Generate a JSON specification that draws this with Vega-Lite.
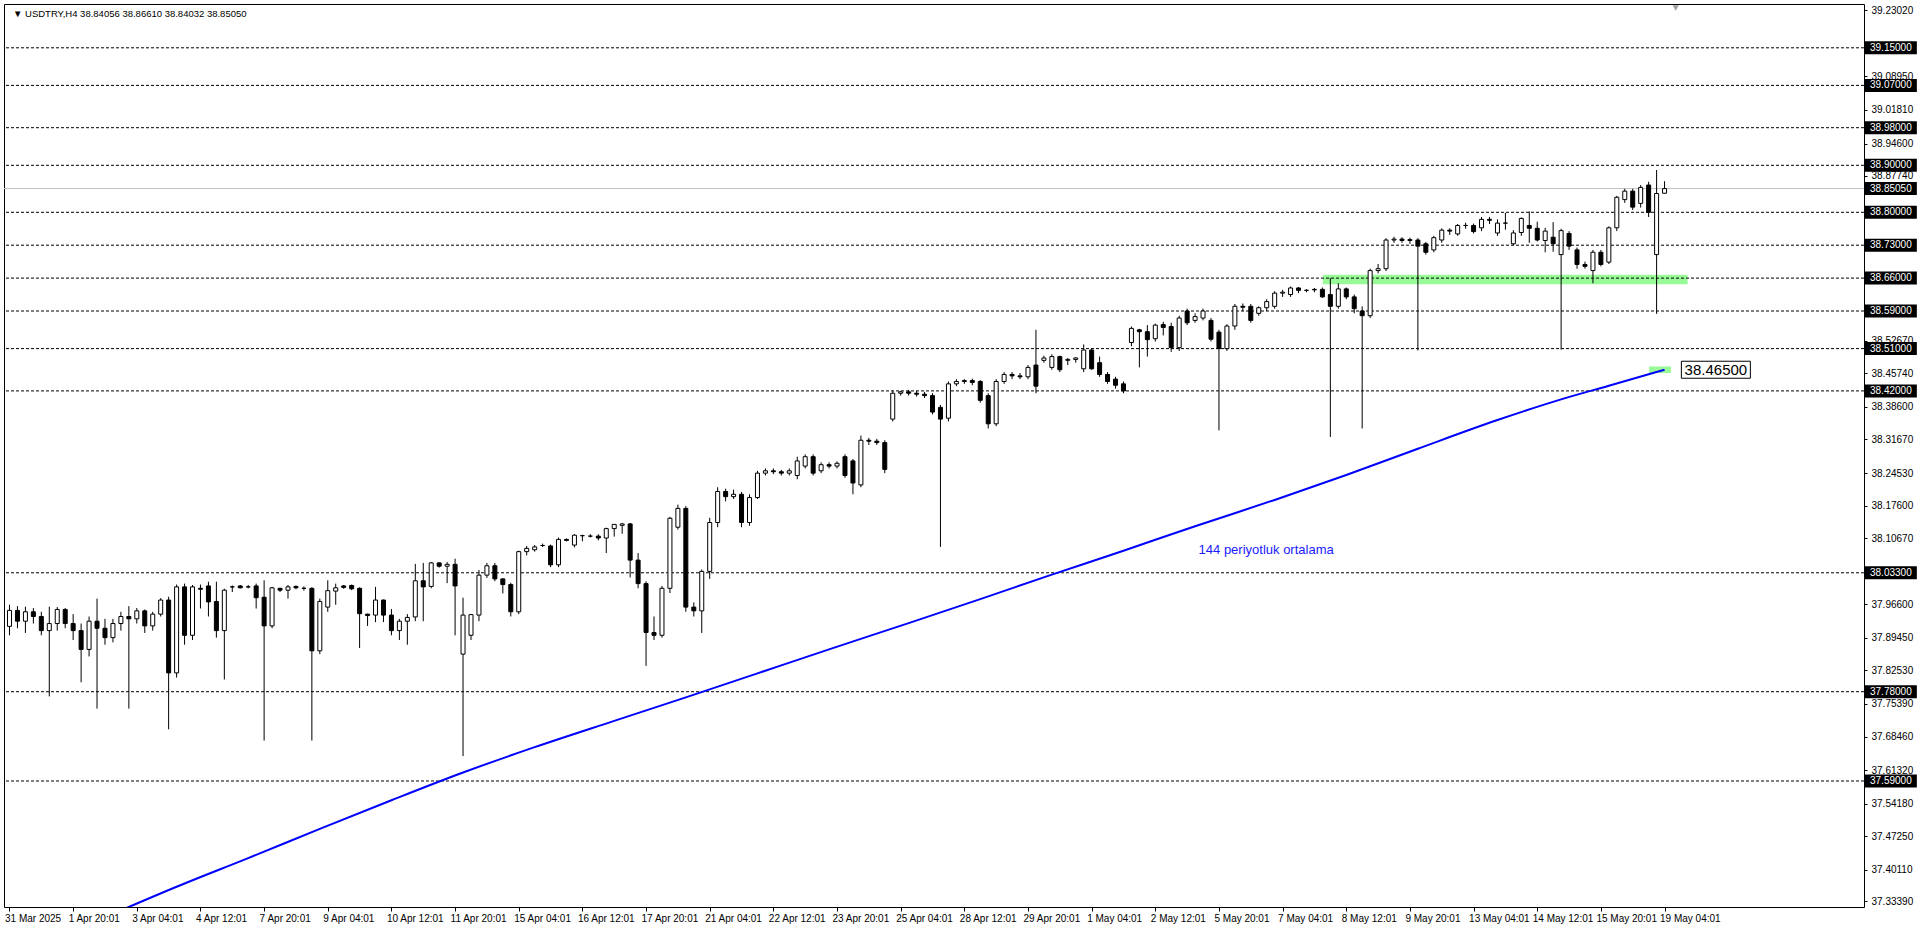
{
  "$schema": "https://vega.github.io/schema/vega-lite/v6.json",
  "width": 1860,
  "height": 903,
  "autosize": {"type": "none"},
  "padding": {"left": 4, "top": 4, "right": 56, "bottom": 20},
  "background": "white",
  "config": {"view": {"stroke": "black", "strokeWidth": 1}, "font": "Liberation Sans"},
  "datasets": {
    "candles": [
      {"i":0,"o":37.919,"h":37.965,"l":37.90,"c":37.953},
      {"i":1,"o":37.953,"h":37.962,"l":37.915,"c":37.93},
      {"i":2,"o":37.93,"h":37.961,"l":37.905,"c":37.95},
      {"i":3,"o":37.95,"h":37.958,"l":37.925,"c":37.94},
      {"i":4,"o":37.94,"h":37.95,"l":37.90,"c":37.91},
      {"i":5,"o":37.91,"h":37.961,"l":37.77,"c":37.925},
      {"i":6,"o":37.925,"h":37.96,"l":37.91,"c":37.955},
      {"i":7,"o":37.955,"h":37.958,"l":37.915,"c":37.925},
      {"i":8,"o":37.925,"h":37.945,"l":37.89,"c":37.91},
      {"i":9,"o":37.91,"h":37.925,"l":37.80,"c":37.87},
      {"i":10,"o":37.87,"h":37.94,"l":37.855,"c":37.93},
      {"i":11,"o":37.93,"h":37.978,"l":37.744,"c":37.915},
      {"i":12,"o":37.915,"h":37.935,"l":37.88,"c":37.895},
      {"i":13,"o":37.895,"h":37.935,"l":37.885,"c":37.925},
      {"i":14,"o":37.925,"h":37.95,"l":37.91,"c":37.94},
      {"i":15,"o":37.94,"h":37.962,"l":37.744,"c":37.935},
      {"i":16,"o":37.935,"h":37.958,"l":37.925,"c":37.952},
      {"i":17,"o":37.952,"h":37.955,"l":37.905,"c":37.92},
      {"i":18,"o":37.92,"h":37.95,"l":37.91,"c":37.945},
      {"i":19,"o":37.945,"h":37.979,"l":37.94,"c":37.975},
      {"i":20,"o":37.975,"h":37.982,"l":37.70,"c":37.82},
      {"i":21,"o":37.82,"h":38.008,"l":37.81,"c":38.003},
      {"i":22,"o":38.003,"h":38.01,"l":37.88,"c":37.90},
      {"i":23,"o":37.90,"h":38.007,"l":37.89,"c":38.003},
      {"i":24,"o":38.0,"h":38.008,"l":37.957,"c":37.998},
      {"i":25,"o":38.005,"h":38.014,"l":37.94,"c":37.971},
      {"i":26,"o":37.972,"h":38.014,"l":37.895,"c":37.91},
      {"i":27,"o":37.91,"h":37.999,"l":37.806,"c":37.996},
      {"i":28,"o":38.003,"h":38.006,"l":37.992,"c":38.003},
      {"i":29,"o":38.005,"h":38.007,"l":38.0,"c":38.001},
      {"i":30,"o":38.003,"h":38.007,"l":38.0,"c":38.003},
      {"i":31,"o":38.005,"h":38.01,"l":37.957,"c":37.98},
      {"i":32,"o":37.981,"h":38.017,"l":37.676,"c":37.92},
      {"i":33,"o":37.92,"h":38.003,"l":37.915,"c":38.001},
      {"i":34,"o":38.0,"h":38.001,"l":37.992,"c":37.996},
      {"i":35,"o":37.996,"h":38.007,"l":37.978,"c":38.003},
      {"i":36,"o":38.004,"h":38.006,"l":37.998,"c":38.001},
      {"i":37,"o":38.0,"h":38.004,"l":37.995,"c":38.0},
      {"i":38,"o":38.0,"h":38.002,"l":37.676,"c":37.867},
      {"i":39,"o":37.867,"h":37.978,"l":37.86,"c":37.972},
      {"i":40,"o":37.96,"h":38.017,"l":37.95,"c":37.995},
      {"i":41,"o":37.994,"h":38.01,"l":37.965,"c":38.001},
      {"i":42,"o":38.005,"h":38.007,"l":37.999,"c":38.002},
      {"i":43,"o":38.006,"h":38.008,"l":37.996,"c":37.999},
      {"i":44,"o":38.0,"h":38.002,"l":37.873,"c":37.946},
      {"i":45,"o":37.945,"h":37.946,"l":37.92,"c":37.942},
      {"i":46,"o":37.943,"h":38.003,"l":37.928,"c":37.975},
      {"i":47,"o":37.975,"h":37.976,"l":37.928,"c":37.943},
      {"i":48,"o":37.943,"h":37.956,"l":37.90,"c":37.91},
      {"i":49,"o":37.91,"h":37.935,"l":37.89,"c":37.93},
      {"i":50,"o":37.93,"h":37.945,"l":37.88,"c":37.938},
      {"i":51,"o":37.939,"h":38.052,"l":37.93,"c":38.016},
      {"i":52,"o":38.016,"h":38.054,"l":37.93,"c":38.003},
      {"i":53,"o":38.004,"h":38.056,"l":38.0,"c":38.054},
      {"i":54,"o":38.054,"h":38.055,"l":38.044,"c":38.047},
      {"i":55,"o":38.047,"h":38.056,"l":38.011,"c":38.051},
      {"i":56,"o":38.051,"h":38.063,"l":37.90,"c":38.005},
      {"i":57,"o":37.86,"h":37.98,"l":37.643,"c":37.943},
      {"i":58,"o":37.90,"h":37.945,"l":37.89,"c":37.944},
      {"i":59,"o":37.943,"h":38.039,"l":37.93,"c":38.028},
      {"i":60,"o":38.028,"h":38.054,"l":38.022,"c":38.048},
      {"i":61,"o":38.048,"h":38.054,"l":38.015,"c":38.02},
      {"i":62,"o":38.02,"h":38.021,"l":37.989,"c":38.008},
      {"i":63,"o":38.008,"h":38.012,"l":37.94,"c":37.95},
      {"i":64,"o":37.95,"h":38.08,"l":37.945,"c":38.078},
      {"i":65,"o":38.078,"h":38.09,"l":38.07,"c":38.085},
      {"i":66,"o":38.082,"h":38.092,"l":38.078,"c":38.088},
      {"i":67,"o":38.091,"h":38.095,"l":38.088,"c":38.091},
      {"i":68,"o":38.09,"h":38.093,"l":38.045,"c":38.05},
      {"i":69,"o":38.05,"h":38.108,"l":38.045,"c":38.104},
      {"i":70,"o":38.104,"h":38.106,"l":38.1,"c":38.102},
      {"i":71,"o":38.092,"h":38.115,"l":38.087,"c":38.113},
      {"i":72,"o":38.112,"h":38.114,"l":38.10,"c":38.112},
      {"i":73,"o":38.111,"h":38.115,"l":38.108,"c":38.111},
      {"i":74,"o":38.111,"h":38.115,"l":38.102,"c":38.107},
      {"i":75,"o":38.107,"h":38.129,"l":38.075,"c":38.127},
      {"i":76,"o":38.127,"h":38.136,"l":38.11,"c":38.136},
      {"i":77,"o":38.134,"h":38.139,"l":38.116,"c":38.137},
      {"i":78,"o":38.137,"h":38.139,"l":38.023,"c":38.06},
      {"i":79,"o":38.06,"h":38.075,"l":38.0,"c":38.01},
      {"i":80,"o":38.01,"h":38.015,"l":37.835,"c":37.906},
      {"i":81,"o":37.906,"h":37.94,"l":37.89,"c":37.90},
      {"i":82,"o":37.90,"h":38.005,"l":37.895,"c":38.0},
      {"i":83,"o":38.0,"h":38.152,"l":37.99,"c":38.149},
      {"i":84,"o":38.13,"h":38.178,"l":38.125,"c":38.17},
      {"i":85,"o":38.17,"h":38.175,"l":37.95,"c":37.96},
      {"i":86,"o":37.96,"h":37.97,"l":37.94,"c":37.952},
      {"i":87,"o":37.952,"h":38.04,"l":37.905,"c":38.036},
      {"i":88,"o":38.036,"h":38.15,"l":38.02,"c":38.14},
      {"i":89,"o":38.14,"h":38.215,"l":38.13,"c":38.206},
      {"i":90,"o":38.206,"h":38.212,"l":38.185,"c":38.195},
      {"i":91,"o":38.195,"h":38.21,"l":38.19,"c":38.2},
      {"i":92,"o":38.2,"h":38.205,"l":38.13,"c":38.14},
      {"i":93,"o":38.14,"h":38.2,"l":38.133,"c":38.193},
      {"i":94,"o":38.193,"h":38.25,"l":38.19,"c":38.245},
      {"i":95,"o":38.245,"h":38.255,"l":38.24,"c":38.25},
      {"i":96,"o":38.25,"h":38.255,"l":38.243,"c":38.248},
      {"i":97,"o":38.248,"h":38.252,"l":38.24,"c":38.245},
      {"i":98,"o":38.245,"h":38.255,"l":38.24,"c":38.25},
      {"i":99,"o":38.24,"h":38.28,"l":38.232,"c":38.271},
      {"i":100,"o":38.26,"h":38.285,"l":38.255,"c":38.28},
      {"i":101,"o":38.28,"h":38.285,"l":38.24,"c":38.245},
      {"i":102,"o":38.25,"h":38.268,"l":38.245,"c":38.263},
      {"i":103,"o":38.263,"h":38.268,"l":38.255,"c":38.26},
      {"i":104,"o":38.26,"h":38.27,"l":38.255,"c":38.266},
      {"i":105,"o":38.28,"h":38.285,"l":38.235,"c":38.24},
      {"i":106,"o":38.271,"h":38.275,"l":38.2,"c":38.224},
      {"i":107,"o":38.22,"h":38.325,"l":38.215,"c":38.315},
      {"i":108,"o":38.315,"h":38.32,"l":38.305,"c":38.313},
      {"i":109,"o":38.313,"h":38.318,"l":38.305,"c":38.31},
      {"i":110,"o":38.31,"h":38.315,"l":38.245,"c":38.253},
      {"i":111,"o":38.36,"h":38.42,"l":38.355,"c":38.415},
      {"i":112,"o":38.415,"h":38.42,"l":38.41,"c":38.418},
      {"i":113,"o":38.418,"h":38.422,"l":38.41,"c":38.415},
      {"i":114,"o":38.415,"h":38.42,"l":38.408,"c":38.413},
      {"i":115,"o":38.413,"h":38.418,"l":38.405,"c":38.41},
      {"i":116,"o":38.41,"h":38.415,"l":38.37,"c":38.375},
      {"i":117,"o":38.385,"h":38.39,"l":38.088,"c":38.36},
      {"i":118,"o":38.362,"h":38.44,"l":38.355,"c":38.435},
      {"i":119,"o":38.435,"h":38.445,"l":38.43,"c":38.44},
      {"i":120,"o":38.44,"h":38.445,"l":38.435,"c":38.442},
      {"i":121,"o":38.442,"h":38.446,"l":38.432,"c":38.438},
      {"i":122,"o":38.44,"h":38.443,"l":38.395,"c":38.40},
      {"i":123,"o":38.41,"h":38.415,"l":38.34,"c":38.35},
      {"i":124,"o":38.35,"h":38.445,"l":38.345,"c":38.44},
      {"i":125,"o":38.44,"h":38.46,"l":38.435,"c":38.455},
      {"i":126,"o":38.455,"h":38.46,"l":38.445,"c":38.452},
      {"i":127,"o":38.452,"h":38.458,"l":38.445,"c":38.45},
      {"i":128,"o":38.45,"h":38.475,"l":38.445,"c":38.47},
      {"i":129,"o":38.475,"h":38.55,"l":38.415,"c":38.43},
      {"i":130,"o":38.485,"h":38.495,"l":38.48,"c":38.49},
      {"i":131,"o":38.47,"h":38.498,"l":38.465,"c":38.493},
      {"i":132,"o":38.493,"h":38.495,"l":38.46,"c":38.465},
      {"i":133,"o":38.485,"h":38.49,"l":38.475,"c":38.487},
      {"i":134,"o":38.487,"h":38.492,"l":38.48,"c":38.49},
      {"i":135,"o":38.467,"h":38.519,"l":38.46,"c":38.507},
      {"i":136,"o":38.507,"h":38.51,"l":38.465,"c":38.467},
      {"i":137,"o":38.48,"h":38.493,"l":38.45,"c":38.455},
      {"i":138,"o":38.455,"h":38.46,"l":38.435,"c":38.44},
      {"i":139,"o":38.445,"h":38.45,"l":38.425,"c":38.432},
      {"i":140,"o":38.435,"h":38.44,"l":38.415,"c":38.42},
      {"i":141,"o":38.523,"h":38.557,"l":38.515,"c":38.553},
      {"i":142,"o":38.55,"h":38.552,"l":38.47,"c":38.546},
      {"i":143,"o":38.546,"h":38.56,"l":38.493,"c":38.529},
      {"i":144,"o":38.531,"h":38.563,"l":38.525,"c":38.56},
      {"i":145,"o":38.561,"h":38.567,"l":38.538,"c":38.555},
      {"i":146,"o":38.557,"h":38.565,"l":38.503,"c":38.512},
      {"i":147,"o":38.512,"h":38.58,"l":38.505,"c":38.575},
      {"i":148,"o":38.59,"h":38.595,"l":38.56,"c":38.565},
      {"i":149,"o":38.57,"h":38.585,"l":38.565,"c":38.578},
      {"i":150,"o":38.575,"h":38.595,"l":38.57,"c":38.59},
      {"i":151,"o":38.57,"h":38.575,"l":38.525,"c":38.53},
      {"i":152,"o":38.545,"h":38.55,"l":38.336,"c":38.51},
      {"i":153,"o":38.51,"h":38.562,"l":38.505,"c":38.558},
      {"i":154,"o":38.558,"h":38.605,"l":38.55,"c":38.60},
      {"i":155,"o":38.60,"h":38.606,"l":38.59,"c":38.598},
      {"i":156,"o":38.60,"h":38.605,"l":38.565,"c":38.57},
      {"i":157,"o":38.585,"h":38.6,"l":38.58,"c":38.597},
      {"i":158,"o":38.597,"h":38.615,"l":38.59,"c":38.61},
      {"i":159,"o":38.60,"h":38.632,"l":38.595,"c":38.628},
      {"i":160,"o":38.628,"h":38.635,"l":38.62,"c":38.63},
      {"i":161,"o":38.625,"h":38.642,"l":38.62,"c":38.639},
      {"i":162,"o":38.639,"h":38.641,"l":38.628,"c":38.634},
      {"i":163,"o":38.634,"h":38.636,"l":38.63,"c":38.634},
      {"i":164,"o":38.635,"h":38.639,"l":38.63,"c":38.636},
      {"i":165,"o":38.636,"h":38.64,"l":38.618,"c":38.62},
      {"i":166,"o":38.625,"h":38.66,"l":38.322,"c":38.60},
      {"i":167,"o":38.60,"h":38.649,"l":38.595,"c":38.637},
      {"i":168,"o":38.637,"h":38.64,"l":38.615,"c":38.62},
      {"i":169,"o":38.62,"h":38.625,"l":38.585,"c":38.595},
      {"i":170,"o":38.59,"h":38.60,"l":38.34,"c":38.58},
      {"i":171,"o":38.58,"h":38.68,"l":38.575,"c":38.676},
      {"i":172,"o":38.676,"h":38.69,"l":38.67,"c":38.68},
      {"i":173,"o":38.68,"h":38.745,"l":38.675,"c":38.741},
      {"i":174,"o":38.741,"h":38.748,"l":38.735,"c":38.743},
      {"i":175,"o":38.743,"h":38.747,"l":38.735,"c":38.74},
      {"i":176,"o":38.74,"h":38.746,"l":38.733,"c":38.742},
      {"i":177,"o":38.741,"h":38.745,"l":38.506,"c":38.728},
      {"i":178,"o":38.733,"h":38.737,"l":38.71,"c":38.715},
      {"i":179,"o":38.72,"h":38.75,"l":38.715,"c":38.746},
      {"i":180,"o":38.741,"h":38.766,"l":38.735,"c":38.762},
      {"i":181,"o":38.762,"h":38.766,"l":38.752,"c":38.76},
      {"i":182,"o":38.754,"h":38.775,"l":38.75,"c":38.772},
      {"i":183,"o":38.772,"h":38.778,"l":38.765,"c":38.772},
      {"i":184,"o":38.772,"h":38.776,"l":38.755,"c":38.759},
      {"i":185,"o":38.767,"h":38.79,"l":38.76,"c":38.785},
      {"i":186,"o":38.785,"h":38.79,"l":38.775,"c":38.783},
      {"i":187,"o":38.756,"h":38.785,"l":38.75,"c":38.777},
      {"i":188,"o":38.777,"h":38.799,"l":38.763,"c":38.777},
      {"i":189,"o":38.733,"h":38.762,"l":38.73,"c":38.756},
      {"i":190,"o":38.757,"h":38.789,"l":38.75,"c":38.787},
      {"i":191,"o":38.772,"h":38.802,"l":38.735,"c":38.766},
      {"i":192,"o":38.766,"h":38.78,"l":38.738,"c":38.741},
      {"i":193,"o":38.74,"h":38.767,"l":38.715,"c":38.76},
      {"i":194,"o":38.747,"h":38.779,"l":38.716,"c":38.733},
      {"i":195,"o":38.71,"h":38.765,"l":38.508,"c":38.761},
      {"i":196,"o":38.755,"h":38.76,"l":38.72,"c":38.728},
      {"i":197,"o":38.72,"h":38.725,"l":38.68,"c":38.689},
      {"i":198,"o":38.689,"h":38.695,"l":38.68,"c":38.685},
      {"i":199,"o":38.676,"h":38.72,"l":38.649,"c":38.715},
      {"i":200,"o":38.715,"h":38.72,"l":38.685,"c":38.689},
      {"i":201,"o":38.694,"h":38.77,"l":38.69,"c":38.767},
      {"i":202,"o":38.767,"h":38.835,"l":38.76,"c":38.832},
      {"i":203,"o":38.827,"h":38.85,"l":38.82,"c":38.845},
      {"i":204,"o":38.845,"h":38.85,"l":38.805,"c":38.811},
      {"i":205,"o":38.819,"h":38.858,"l":38.81,"c":38.853},
      {"i":206,"o":38.858,"h":38.865,"l":38.79,"c":38.80},
      {"i":207,"o":38.71,"h":38.89,"l":38.584,"c":38.84},
      {"i":208,"o":38.84056,"h":38.8661,"l":38.84032,"c":38.8505}
    ],
    "ma": [
      {"i":12,"ma":37.30},{"i":21,"ma":37.365},{"i":30,"ma":37.426},{"i":39,"ma":37.488},
      {"i":48,"ma":37.549},{"i":57,"ma":37.608},{"i":66,"ma":37.662},{"i":76,"ma":37.718},
      {"i":85,"ma":37.768},{"i":94,"ma":37.819},{"i":103,"ma":37.870},{"i":113,"ma":37.926},
      {"i":122,"ma":37.977},{"i":131,"ma":38.029},{"i":140,"ma":38.080},{"i":149,"ma":38.132},
      {"i":159,"ma":38.188},{"i":168,"ma":38.241},{"i":177,"ma":38.297},{"i":187,"ma":38.358},
      {"i":195,"ma":38.402},{"i":201,"ma":38.431},{"i":208,"ma":38.465}
    ],
    "levels": [
      {"p":39.15,"kind":"level"},{"p":39.07,"kind":"level"},{"p":38.98,"kind":"level"},
      {"p":38.90,"kind":"level"},{"p":38.8505,"kind":"bid"},{"p":38.80,"kind":"level"},
      {"p":38.73,"kind":"level"},{"p":38.66,"kind":"level"},{"p":38.59,"kind":"level"},
      {"p":38.51,"kind":"level"},{"p":38.42,"kind":"level"},{"p":38.033,"kind":"level"},
      {"p":37.78,"kind":"level"},{"p":37.59,"kind":"level"}
    ],
    "zones": [
      {"x1":165.06,"x2":210.9,"p1":38.647,"p2":38.667},
      {"x1":206.06,"x2":208.8,"p1":38.458,"p2":38.472}
    ],
    "maLabel": [{"i":214.45,"p":38.465}]
  },
  "layer": [
    {
      "data": {"name": "zones"},
      "mark": {"type": "rect", "fill": "#98fb98"},
      "encoding": {
        "x": {"field": "x1", "type": "quantitative", "scale": {"domain": [-0.0625, 232.4375], "nice": false, "zero": false},
          "axis": {"values": [0,8,16,24,32,40,48,56,64,72,80,88,96,104,112,120,128,136,144,152,160,168,176,184,192,200,208],
            "labelExpr": "['31 Mar 2025','1 Apr 20:01','3 Apr 04:01','4 Apr 12:01','7 Apr 20:01','9 Apr 04:01','10 Apr 12:01','11 Apr 20:01','15 Apr 04:01','16 Apr 12:01','17 Apr 20:01','21 Apr 04:01','22 Apr 12:01','23 Apr 20:01','25 Apr 04:01','28 Apr 12:01','29 Apr 20:01','1 May 04:01','2 May 12:01','5 May 20:01','7 May 04:01','8 May 12:01','9 May 20:01','13 May 04:01','14 May 12:01','15 May 20:01','19 May 04:01'][round(datum.value/8)]",
            "labelAlign": "left", "labelBaseline": "top", "labelPadding": 2, "labelOffset": -5, "tickSize": 4, "tickColor": "black",
            "domain": false, "grid": false, "title": null, "labelFont": "Liberation Sans", "labelFontSize": 10,
            "labelColor": "black", "labelOverlap": false, "labelFlush": false, "labelBound": false}},
        "x2": {"field": "x2"},
        "y": {"field": "p1", "type": "quantitative", "scale": {"domain": [37.3219, 39.2432], "nice": false, "zero": false},
          "axis": {"orient": "right",
            "values": [39.2302,39.0895,39.0181,38.946,38.8774,38.5267,38.4574,38.386,38.3167,38.2453,38.176,38.1067,37.966,37.8945,37.8253,37.7539,37.6846,37.6132,37.5418,37.4725,37.4011,37.3339],
            "format": ".5f", "tickSize": 3, "tickColor": "black", "labelPadding": 4, "domain": false, "grid": false,
            "title": null, "labelFont": "Liberation Sans", "labelFontSize": 10, "labelColor": "black",
            "labelOverlap": false, "labelFlush": false, "labelBound": false}},
        "y2": {"field": "p2"}
      }
    },
    {
      "data": {"name": "levels"},
      "transform": [{"filter": "datum.kind == 'level'"}],
      "mark": {"type": "rule", "color": "black", "strokeWidth": 1, "strokeDash": [3, 2]},
      "encoding": {"y": {"field": "p", "type": "quantitative"}}
    },
    {
      "data": {"name": "levels"},
      "transform": [{"filter": "datum.kind == 'bid'"}],
      "mark": {"type": "rule", "color": "#c0c0c0", "strokeWidth": 1},
      "encoding": {"y": {"field": "p", "type": "quantitative"}}
    },
    {
      "data": {"name": "candles"},
      "mark": {"type": "rule", "color": "black", "strokeWidth": 1},
      "encoding": {
        "x": {"field": "i", "type": "quantitative"},
        "y": {"field": "l", "type": "quantitative"},
        "y2": {"field": "h"}
      }
    },
    {
      "data": {"name": "candles"},
      "mark": {"type": "bar", "width": 4, "stroke": "black", "strokeWidth": 1},
      "encoding": {
        "x": {"field": "i", "type": "quantitative"},
        "y": {"field": "o", "type": "quantitative"},
        "y2": {"field": "c"},
        "fill": {"condition": {"test": "datum.c >= datum.o", "value": "white"}, "value": "black"}
      }
    },
    {
      "data": {"name": "ma"},
      "mark": {"type": "line", "color": "#0000ff", "strokeWidth": 2, "clip": true, "interpolate": "monotone"},
      "encoding": {
        "x": {"field": "i", "type": "quantitative"},
        "y": {"field": "ma", "type": "quantitative"}
      }
    },
    {
      "data": {"name": "maLabel"},
      "mark": {"type": "tick", "orient": "horizontal", "size": 69, "thickness": 17, "fill": "white", "stroke": "black", "strokeWidth": 1, "opacity": 1},
      "encoding": {
        "x": {"field": "i", "type": "quantitative"},
        "y": {"field": "p", "type": "quantitative"}
      }
    },
    {
      "data": {"name": "maLabel"},
      "mark": {"type": "text", "fontSize": 15, "font": "Liberation Sans", "color": "black", "align": "center", "baseline": "middle"},
      "encoding": {
        "x": {"field": "i", "type": "quantitative"},
        "y": {"field": "p", "type": "quantitative"},
        "text": {"field": "p", "type": "quantitative", "format": ".5f"}
      }
    },
    {
      "data": {"values": [{"t": "144 periyotluk ortalama"}]},
      "mark": {"type": "text", "fontSize": 13, "font": "Liberation Sans", "color": "#1a1aff", "align": "left", "baseline": "alphabetic"},
      "encoding": {
        "x": {"datum": 149.44, "type": "quantitative"},
        "y": {"datum": 38.073, "type": "quantitative"},
        "text": {"field": "t"}
      }
    },
    {
      "data": {"values": [{"t": "▼ USDTRY,H4  38.84056 38.86610 38.84032 38.85050"}]},
      "mark": {"type": "text", "fontSize": 9.5, "font": "Liberation Sans", "color": "black", "align": "left", "baseline": "alphabetic"},
      "encoding": {
        "x": {"datum": 0.44, "type": "quantitative"},
        "y": {"datum": 39.2155, "type": "quantitative"},
        "text": {"field": "t"}
      }
    },
    {
      "data": {"values": [{"t": "shift"}]},
      "mark": {"type": "point", "shape": "triangle-down", "size": 40, "filled": true, "color": "#a0a0a0", "opacity": 1},
      "encoding": {
        "x": {"datum": 209.4, "type": "quantitative"},
        "y": {"datum": 39.2347, "type": "quantitative"}
      }
    },
    {
      "data": {"name": "levels"},
      "mark": {"type": "tick", "orient": "horizontal", "size": 52, "thickness": 13, "color": "black", "opacity": 1},
      "encoding": {
        "x": {"datum": 236.44, "type": "quantitative"},
        "y": {"field": "p", "type": "quantitative"}
      }
    },
    {
      "data": {"name": "levels"},
      "mark": {"type": "text", "fontSize": 10, "font": "Liberation Sans", "color": "white", "align": "center", "baseline": "middle"},
      "encoding": {
        "x": {"datum": 236.44, "type": "quantitative"},
        "y": {"field": "p", "type": "quantitative"},
        "text": {"field": "p", "type": "quantitative", "format": ".5f"}
      }
    }
  ]
}
